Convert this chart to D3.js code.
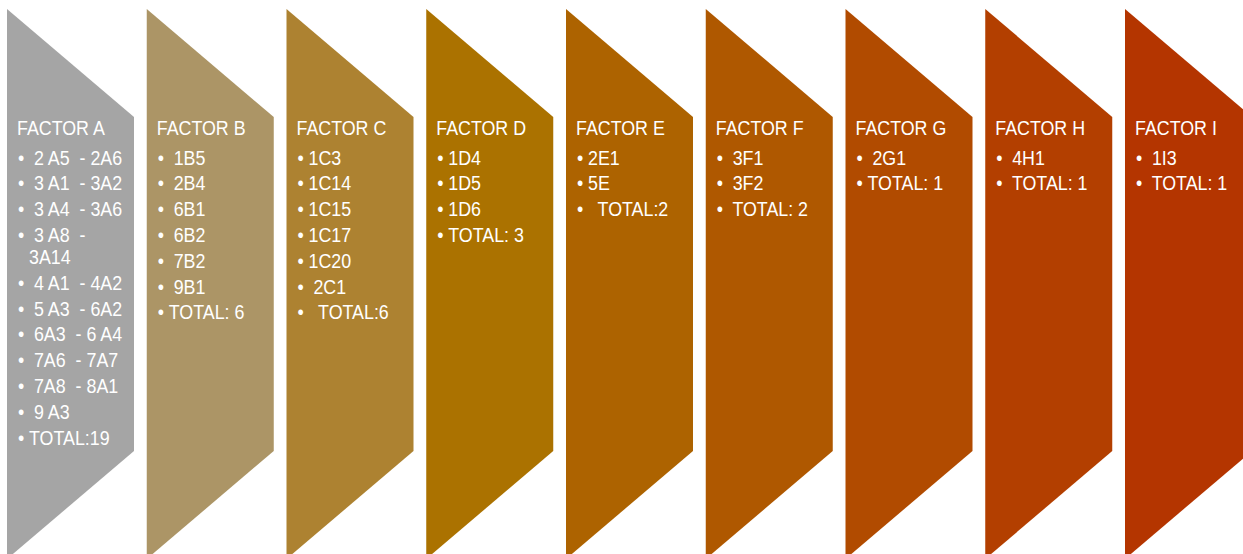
<!DOCTYPE html>
<html>
<head>
<meta charset="utf-8">
<script src="https://cdn.jsdelivr.net/npm/d3@7/dist/d3.min.js"></script>
<style>
  html, body { margin: 0; padding: 0; background: #ffffff; }
  svg { display: block; }
  text { font-family: "Liberation Sans", Arial, sans-serif; fill: #ffffff; white-space: pre; }
</style>
</head>
<body>
<svg id="chart" width="1243" height="554"></svg>
<script>
// ---- data ----
const factors = ["FACTOR A", "FACTOR B", "FACTOR C", "FACTOR D", "FACTOR E", "FACTOR F", "FACTOR G", "FACTOR H", "FACTOR I"];
const itemsA = [" 2 A5  - 2A6", " 3 A1  - 3A2", " 3 A4  - 3A6", " 3 A8  -\n3A14", " 4 A1  - 4A2", " 5 A3  - 6A2", " 6A3  - 6 A4", " 7A6  - 7A7", " 7A8  - 8A1", " 9 A3", "TOTAL:19"];
const itemsB = [" 1B5", " 2B4", " 6B1", " 6B2", " 7B2", " 9B1", "TOTAL: 6"];
const itemsC = ["1C3", "1C14", "1C15", "1C17", "1C20", " 2C1", "  TOTAL:6"];
const itemsD = ["1D4", "1D5", "1D6", "TOTAL: 3"];
const itemsE = ["2E1", "5E", "  TOTAL:2"];
const itemsF = [" 3F1", " 3F2", " TOTAL: 2"];
const itemsG = [" 2G1", "TOTAL: 1"];
const itemsH = [" 4H1", " TOTAL: 1"];
const itemsI = [" 1I3", " TOTAL: 1"];
const items = [itemsA, itemsB, itemsC, itemsD, itemsE, itemsF, itemsG, itemsH, itemsI];

// ---- style ----
const palette = ["#A5A5A5", "#AC9566", "#AD8231", "#AB7200", "#AD6300", "#AF5800", "#B14B00", "#B33F00", "#B43500"];

const svg = d3.select("#chart");
const x = d3.scaleBand().domain(factors).range([7, 1252]).paddingInner(0.0912).paddingOuter(0);
const color = d3.scaleOrdinal().domain(factors).range(palette);

const yTop = 9, yBottom = 559, notch = 108;
const fontSize = 21;
const narrow = 0.85; // condensed look (Arial Narrow)

function addText(sel, tx, ty, str) {
  return sel.append("text")
    .attr("transform", `translate(${tx},${ty}) scale(${narrow},1)`)
    .attr("font-size", fontSize)
    .attr("xml:space", "preserve")
    .text(str);
}

const g = svg.selectAll("g.step").data(factors.map((f, i) => ({name: f, items: items[i]})))
  .enter().append("g").attr("class", "step");

g.append("path")
  .attr("d", d => {
    const x0 = x(d.name), x1 = x0 + x.bandwidth();
    return d3.line()([[x0, yTop], [x1, yTop + notch], [x1, yBottom - notch], [x0, yBottom]]) + "Z";
  })
  .attr("fill", d => color(d.name));

g.each(function(d) {
  const x0 = x(d.name);
  const sel = d3.select(this);
  addText(sel, x0 + 10, 135, d.name);
  let y = 164.5;
  d.items.forEach(item => {
    addText(sel, x0 + 11, y, "\u2022");
    const lines = item.split("\n");
    lines.forEach((ln, k) => addText(sel, x0 + 22, y + k * 22, ln));
    y += 25.8 + (lines.length - 1) * 22;
  });
});
</script>
</body>
</html>
